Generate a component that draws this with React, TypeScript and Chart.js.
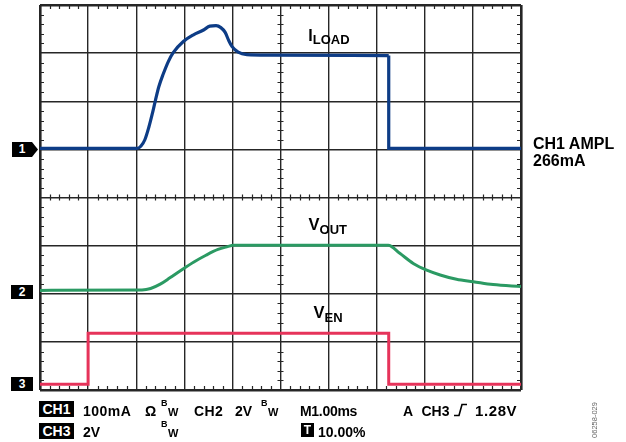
import React, { useEffect, useRef } from 'react';
import Chart from 'chart.js/auto';

// Screen grid: 10 horizontal divisions (1 ms/div), 8 vertical divisions
const TIME_DIVS = 10;
const VERT_DIVS = 8;
const MINOR_PER_DIV = 5;

// CH1 (I_LOAD) trace, in divisions: rising/settling part
const iloadRiseTime = [0, 2.02, 2.1, 2.18, 2.26, 2.33, 2.4, 2.47, 2.56, 2.67, 2.77, 2.98, 3.19, 3.4, 3.53, 3.66, 3.76, 3.85, 3.92, 3.99, 4.12, 4.3, 4.78, 7.25];
const iloadRiseLevel = [5.02, 5.02, 5.07, 5.2, 5.45, 5.72, 6.02, 6.3, 6.56, 6.83, 7.01, 7.24, 7.38, 7.48, 7.56, 7.57, 7.53, 7.43, 7.27, 7.14, 7.02, 6.97, 6.96, 6.95];
// CH1 turn-off step
const iloadOffTime = [7.25, 7.25, 10];
const iloadOffLevel = [6.95, 5.02, 5.02];

// CH2 (V_OUT) trace
const voutTime = [0, 2.12, 2.3, 2.5, 2.7, 2.95, 3.2, 3.45, 3.7, 3.9, 4.02, 7.24, 7.48, 7.76, 8.04, 8.32, 8.66, 9.01, 9.42, 10];
const voutLevel = [2.07, 2.08, 2.11, 2.2, 2.33, 2.5, 2.66, 2.8, 2.92, 2.98, 3.01, 3.01, 2.84, 2.63, 2.49, 2.39, 2.3, 2.25, 2.19, 2.15];

// CH3 (V_EN) trace
const venTime = [0, 1.0, 1.0, 7.25, 7.25, 10];
const venLevel = [0.12, 0.12, 1.18, 1.18, 0.12, 0.12];

const BLUE = '#0d3c86';
const GREEN = '#2b9a63';
const RED = '#e6335a';
const GRID = '#262626';
const FONT = '"Liberation Sans", Arial, Helvetica, sans-serif';

const pts = (t: number[], v: number[]) => t.map((x, i) => ({ x, y: v[i] }));

function Txt(props: { x: number; base: number; size: number; children: any; color?: string; ls?: number }) {
  const { x, base, size, children, color, ls } = props;
  return (
    <div
      style={{
        position: 'absolute',
        left: x,
        top: base - 0.8465 * size,
        fontSize: size,
        lineHeight: `${size}px`,
        fontFamily: FONT,
        fontWeight: 'bold',
        color: color || '#000',
        whiteSpace: 'nowrap',
        letterSpacing: ls ? `${ls}px` : undefined,
      }}
    >
      {children}
    </div>
  );
}

function Boxed(props: { x: number; top: number; w: number; h: number; size: number; children: any }) {
  const { x, top, w, h, size, children } = props;
  return (
    <div
      style={{
        position: 'absolute',
        left: x,
        top,
        width: w,
        height: h,
        background: '#000',
        color: '#fff',
        fontFamily: FONT,
        fontWeight: 'bold',
        fontSize: size,
        lineHeight: `${h}px`,
        textAlign: 'center',
        whiteSpace: 'nowrap',
      }}
    >
      {children}
    </div>
  );
}

export default function App() {
  const ref = useRef<HTMLCanvasElement>(null);

  useEffect(() => {
    const minorTicks = {
      id: 'minorTicks',
      beforeDatasetsDraw(chart: any) {
        const { ctx, chartArea } = chart;
        const xs = chart.scales.x;
        const ys = chart.scales.y;
        const { left, right, top, bottom } = chartArea;
        const cy = ys.getPixelForValue(VERT_DIVS / 2);
        const cx = xs.getPixelForValue(TIME_DIVS / 2);
        ctx.save();
        ctx.strokeStyle = GRID;
        ctx.lineWidth = 1.2;
        ctx.beginPath();
        for (let i = 0; i <= TIME_DIVS * MINOR_PER_DIV; i++) {
          if (i % MINOR_PER_DIV === 0) continue;
          const px = Math.round(xs.getPixelForValue(i / MINOR_PER_DIV)) + 0.5;
          ctx.moveTo(px, top);
          ctx.lineTo(px, top + 4);
          ctx.moveTo(px, bottom);
          ctx.lineTo(px, bottom - 4);
          ctx.moveTo(px, cy - 3);
          ctx.lineTo(px, cy + 3);
        }
        for (let i = 0; i <= VERT_DIVS * MINOR_PER_DIV; i++) {
          if (i % MINOR_PER_DIV === 0) continue;
          const py = Math.round(ys.getPixelForValue(i / MINOR_PER_DIV)) + 0.5;
          ctx.moveTo(left, py);
          ctx.lineTo(left + 4, py);
          ctx.moveTo(right, py);
          ctx.lineTo(right - 4, py);
          ctx.moveTo(cx - 3, py);
          ctx.lineTo(cx + 3, py);
        }
        ctx.stroke();
        ctx.restore();
      },
    };

    const gridOpts = (max: number) => ({
      color: GRID,
      lineWidth: (c: any) => (c.tick && (c.tick.value === 0 || c.tick.value === max) ? 2.6 : 1.4),
      drawTicks: false,
    });

    const chart = new Chart(ref.current as HTMLCanvasElement, {
      type: 'line',
      data: {
        datasets: [
          {
            data: pts(venTime, venLevel),
            borderColor: RED,
            borderWidth: 3,
            tension: 0,
            borderJoinStyle: 'miter',
            pointRadius: 0,
          },
          {
            data: pts(voutTime, voutLevel),
            borderColor: GREEN,
            borderWidth: 3,
            cubicInterpolationMode: 'monotone',
            pointRadius: 0,
          },
          {
            data: pts(iloadRiseTime, iloadRiseLevel),
            borderColor: BLUE,
            borderWidth: 3.2,
            cubicInterpolationMode: 'monotone',
            pointRadius: 0,
          },
          {
            data: pts(iloadOffTime, iloadOffLevel),
            borderColor: BLUE,
            borderWidth: 3.2,
            tension: 0,
            borderJoinStyle: 'miter',
            pointRadius: 0,
          },
        ] as any,
      },
      options: {
        responsive: false,
        animation: false,
        layout: { padding: { left: 40, top: 5, right: 105, bottom: 52 } },
        plugins: { legend: { display: false }, tooltip: { enabled: false } },
        scales: {
          x: {
            type: 'linear',
            min: 0,
            max: TIME_DIVS,
            ticks: { display: false, stepSize: 1 },
            grid: gridOpts(TIME_DIVS) as any,
            border: { display: false },
          },
          y: {
            type: 'linear',
            min: 0,
            max: VERT_DIVS,
            ticks: { display: false, stepSize: 1 },
            grid: gridOpts(VERT_DIVS) as any,
            border: { display: false },
          },
        },
      } as any,
      plugins: [minorTicks],
    });
    return () => chart.destroy();
  }, []);

  return (
    <div style={{ position: 'fixed', left: 0, top: 0, width: 626, height: 442, background: '#fff', overflow: 'hidden' }}>
      <canvas ref={ref} width={626} height={442} style={{ position: 'absolute', left: 0, top: 0, width: 626, height: 442 }} />

      {/* channel markers */}
      <div
        style={{
          position: 'absolute',
          left: 12,
          top: 142,
          width: 26,
          height: 15,
          background: '#000',
          clipPath: 'polygon(0 0, 20px 0, 26px 50%, 20px 100%, 0 100%)',
        }}
      >
        <div style={{ width: 20, textAlign: 'center', color: '#fff', fontFamily: FONT, fontWeight: 'bold', fontSize: 12, lineHeight: '15px' }}>1</div>
      </div>
      <Boxed x={11} top={285} w={22} h={14} size={12}>2</Boxed>
      <Boxed x={11} top={377} w={22} h={14} size={12}>3</Boxed>

      {/* trace labels */}
      <Txt x={308.3} base={41.7} size={16}>
        I<span style={{ fontSize: 13, lineHeight: '12px', position: 'relative', top: 3 }}>LOAD</span>
      </Txt>
      <Txt x={308.5} base={230} size={16.5}>
        V<span style={{ fontSize: 13, lineHeight: '12px', position: 'relative', top: 4 }}>OUT</span>
      </Txt>
      <Txt x={313.5} base={318.3} size={16.5}>
        V<span style={{ fontSize: 13, lineHeight: '12px', position: 'relative', top: 3.5 }}>EN</span>
      </Txt>

      {/* right annotation */}
      <Txt x={533} base={149.3} size={16}>CH1 AMPL</Txt>
      <Txt x={533} base={167} size={16}>266mA</Txt>

      {/* status line 1 */}
      <Boxed x={39} top={401} w={35} h={16} size={14}>CH1</Boxed>
      <Txt x={83} base={416} size={14} ls={0.5}>100mA</Txt>
      <Txt x={145} base={416} size={14}>Ω</Txt>
      <Txt x={161} base={407} size={9}>B</Txt>
      <Txt x={168} base={416.5} size={11}>W</Txt>
      <Txt x={194} base={416} size={14} ls={0.4}>CH2</Txt>
      <Txt x={235} base={416} size={14}>2V</Txt>
      <Txt x={261} base={407} size={9}>B</Txt>
      <Txt x={268} base={416.5} size={11}>W</Txt>
      <Txt x={300} base={416} size={14} ls={-0.3}>M1.00ms</Txt>
      <Txt x={403} base={416} size={14}>A</Txt>
      <Txt x={421.5} base={416} size={14}>CH3</Txt>
      <svg style={{ position: 'absolute', left: 452, top: 402 }} width={16} height={16}>
        <polyline points="2,13.5 7,13.5 10,2.5 15,2.5" fill="none" stroke="#000" strokeWidth={1.6} />
      </svg>
      <Txt x={475} base={416} size={15} ls={0.6}>1.28V</Txt>

      {/* status line 2 */}
      <Boxed x={39} top={423} w={35} h={16} size={14}>CH3</Boxed>
      <Txt x={83} base={437} size={14}>2V</Txt>
      <Txt x={161} base={428} size={9}>B</Txt>
      <Txt x={168} base={437.5} size={11}>W</Txt>
      <Boxed x={301} top={423} w={13} h={14} size={12}>T</Boxed>
      <Txt x={318} base={437} size={14}>10.00%</Txt>

      {/* figure code */}
      <div
        style={{
          position: 'absolute',
          left: 594,
          top: 420,
          transform: 'translate(-50%, -50%) rotate(-90deg)',
          fontFamily: FONT,
          fontSize: 7.5,
          color: '#666',
          whiteSpace: 'nowrap',
        }}
      >
        06258-029
      </div>
    </div>
  );
}
